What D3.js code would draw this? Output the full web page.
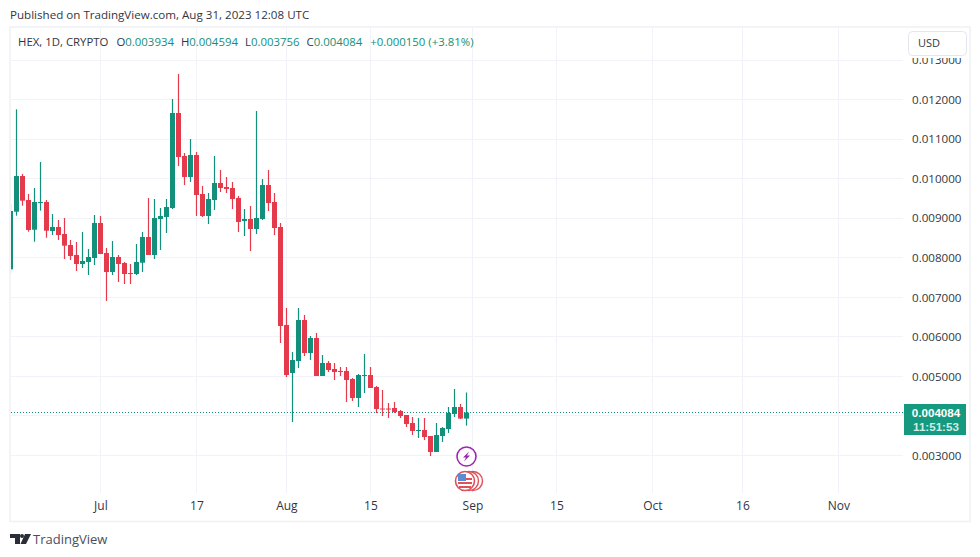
<!DOCTYPE html>
<html>
<head>
<meta charset="utf-8">
<script src="https://cdn.jsdelivr.net/npm/d3@7"></script>
<style>
html, body { margin: 0; padding: 0; background: #fff; }
text { font-family: "Open Sans", Arial, sans-serif; }
</style>
</head>
<body>
<div id="grafico"></div>
<script>
// Datos (HEX, 1D)
var dates = ['2023-06-16','2023-06-17','2023-06-18','2023-06-19','2023-06-20','2023-06-21','2023-06-22','2023-06-23','2023-06-24','2023-06-25','2023-06-26','2023-06-27','2023-06-28','2023-06-29','2023-06-30',
    '2023-07-01','2023-07-02','2023-07-03','2023-07-04','2023-07-05','2023-07-06','2023-07-07','2023-07-08','2023-07-09','2023-07-10','2023-07-11','2023-07-12','2023-07-13','2023-07-14','2023-07-15','2023-07-16','2023-07-17','2023-07-18','2023-07-19','2023-07-20','2023-07-21','2023-07-22','2023-07-23','2023-07-24','2023-07-25','2023-07-26','2023-07-27','2023-07-28','2023-07-29','2023-07-30','2023-07-31',
    '2023-08-01','2023-08-02','2023-08-03','2023-08-04','2023-08-05','2023-08-06','2023-08-07','2023-08-08','2023-08-09','2023-08-10','2023-08-11','2023-08-12','2023-08-13','2023-08-14','2023-08-15','2023-08-16','2023-08-17','2023-08-18','2023-08-19','2023-08-20','2023-08-21','2023-08-22','2023-08-23','2023-08-24','2023-08-25','2023-08-26','2023-08-27','2023-08-28','2023-08-29','2023-08-30','2023-08-31'];
var opens = [0.007708,0.009164,0.010067,0.009460,0.008709,0.009392,0.009410,0.008676,0.008778,0.008601,0.008322,0.008070,0.007842,0.007893,0.007994,
    0.008879,0.008120,0.007640,0.008019,0.007867,0.007614,0.007589,0.007875,0.008525,0.008070,0.008980,0.009030,0.009258,0.011660,0.010573,0.010042,0.010598,0.009612,0.009056,0.009460,0.009890,0.009789,0.009764,0.009511,0.008929,0.008980,0.008727,0.008980,0.009839,0.009410,0.008778,
    0.006300,0.005086,0.005389,0.006426,0.005592,0.005971,0.005010,0.005339,0.005187,0.005137,0.005137,0.004934,0.004454,0.005017,0.005035,0.004732,0.004188,0.004188,0.004201,0.004125,0.004024,0.003822,0.003627,0.003645,0.003493,0.003089,0.003493,0.003670,0.004050,0.004226,0.003934];
var highs = [0.009359,0.011753,0.010118,0.009612,0.009764,0.010421,0.009460,0.009106,0.008955,0.009005,0.008449,0.008398,0.008651,0.008221,0.009081,
    0.009056,0.008247,0.008424,0.008070,0.007893,0.007842,0.008348,0.008651,0.009511,0.009485,0.009258,0.009485,0.012014,0.012646,0.010649,0.011003,0.010674,0.009814,0.009637,0.010573,0.010219,0.010042,0.009915,0.009561,0.009233,0.009308,0.011710,0.009991,0.010219,0.009637,0.008879,
    0.006730,0.005617,0.006730,0.006553,0.006022,0.006097,0.005541,0.005389,0.005339,0.005238,0.005238,0.004960,0.005061,0.005566,0.005238,0.004757,0.004656,0.004328,0.004353,0.004151,0.004024,0.003974,0.003948,0.003948,0.003493,0.003822,0.003721,0.004226,0.004682,0.004303,0.004594];
var lows = [0.007607,0.009063,0.009316,0.008659,0.008406,0.009190,0.008507,0.008575,0.008449,0.007968,0.007943,0.007665,0.007741,0.007564,0.007817,
    0.008095,0.006907,0.007564,0.007387,0.007336,0.007336,0.007564,0.007640,0.008070,0.007968,0.008196,0.008626,0.009233,0.010320,0.009839,0.009915,0.009056,0.009030,0.008853,0.009207,0.009662,0.009637,0.009233,0.008651,0.008550,0.008171,0.008601,0.008955,0.009182,0.008575,0.005845,
    0.004985,0.003847,0.005213,0.005516,0.005415,0.005010,0.005010,0.005111,0.004909,0.005010,0.004353,0.004378,0.004226,0.004580,0.004707,0.004075,0.003999,0.003948,0.004075,0.003948,0.003721,0.003518,0.003443,0.003392,0.002988,0.003089,0.003341,0.003569,0.003974,0.003923,0.003756];
var closes = [0.009182,0.010067,0.009443,0.008702,0.009410,0.009410,0.008684,0.008778,0.008575,0.008305,0.008044,0.007842,0.007918,0.008019,0.008879,
    0.008095,0.007640,0.008019,0.007842,0.007589,0.007597,0.007893,0.008525,0.008070,0.009005,0.009056,0.009283,0.011660,0.010547,0.010042,0.010598,0.009587,0.009056,0.009485,0.009890,0.009764,0.009738,0.009485,0.008904,0.008980,0.008727,0.009005,0.009839,0.009384,0.008752,0.006274,
    0.005035,0.005415,0.006426,0.005592,0.005971,0.005010,0.005339,0.005162,0.005111,0.005119,0.004909,0.004454,0.005035,0.005035,0.004707,0.004176,0.004176,0.004176,0.004100,0.003999,0.003797,0.003620,0.003645,0.003468,0.003089,0.003518,0.003695,0.004075,0.004226,0.003934,0.004084];

var price_ticks = [0.003,0.004,0.005,0.006,0.007,0.008,0.009,0.010,0.011,0.012,0.013];
var time_ticks = ['2023-07-01','2023-07-17','2023-08-01','2023-08-15','2023-09-01','2023-09-15','2023-10-01','2023-10-16','2023-11-01'];
var time_labels = ['Jul','17','Aug','15','Sep','15','Oct','16','Nov'];
var legend_names = ['O','H','L','C'];
var legend_values = ['0.003934','0.004594','0.003756','0.004084'];
var last_price = 0.004084;
var event_date = '2023-08-31';

var width = 980, height = 557;
var verde = '#12907c', rojo = '#e53a4b', grilla = '#f1f3f8', texto = '#33363f';
var fuente = '"Open Sans", Arial, sans-serif';
var parseDate = d3.utcParse('%Y-%m-%d');

var svg = d3.select('#grafico').append('svg')
    .attr('width', width)
    .attr('height', height)
    .style('display', 'block');

// ---------ESCALAS------------
var scale_x = d3.scaleUtc()
    .domain([parseDate(dates[0]), parseDate(time_ticks[8])])
    .range([10.4, 838.4]);
var scale_y = d3.scaleLinear()
    .domain([0.003, 0.013])
    .range([455.5, 60]);

function px(v) { return Math.floor(v) + 0.5; }

// Marco
svg.append('rect').attr('x', 10).attr('y', 27).attr('width', 960).attr('height', 494.5)
    .attr('fill', 'none').attr('stroke', '#f0f2f6').attr('stroke-width', 1.6);

svg.append('defs').append('clipPath').attr('id', 'plot')
    .append('rect').attr('x', 11).attr('y', 28).attr('width', 892).attr('height', 465);

// Grilla
var grid = svg.append('g').attr('clip-path', 'url(#plot)');
price_ticks.forEach(function (d) {
    grid.append('line').attr('x1', 11).attr('x2', 903)
        .attr('y1', px(scale_y(d))).attr('y2', px(scale_y(d)))
        .attr('stroke', grilla);
});
time_ticks.forEach(function (d) {
    grid.append('line').attr('y1', 28).attr('y2', 493)
        .attr('x1', px(scale_x(parseDate(d)))).attr('x2', px(scale_x(parseDate(d))))
        .attr('stroke', grilla);
});

// Linea punteada del ultimo precio
svg.append('line').attr('x1', 11).attr('x2', 903)
    .attr('y1', px(scale_y(last_price))).attr('y2', px(scale_y(last_price)))
    .attr('stroke', verde).attr('stroke-dasharray', '1,2');

// Velas
var velas = svg.append('g').attr('clip-path', 'url(#plot)');
dates.forEach(function (d, i) {
    var x = px(scale_x(parseDate(d)));
    var color = closes[i] >= opens[i] ? verde : rojo;
    velas.append('line').attr('x1', x).attr('x2', x)
        .attr('y1', scale_y(highs[i])).attr('y2', scale_y(lows[i]))
        .attr('stroke', color).attr('stroke-width', 1.2);
    var top = scale_y(Math.max(opens[i], closes[i]));
    var bottom = scale_y(Math.min(opens[i], closes[i]));
    velas.append('rect').attr('x', x - 2.5).attr('width', 5)
        .attr('y', top).attr('height', Math.max(bottom - top, 1))
        .attr('fill', color);
});

// EJE Y
var axis_y = svg.append('g')
    .attr('transform', 'translate(905,0)')
    .call(d3.axisRight(scale_y).tickValues(price_ticks.filter(function (d) { return d !== 0.004; }))
        .tickSize(0).tickPadding(7).tickFormat(d3.format('.6f')));
axis_y.select('.domain').remove();
axis_y.selectAll('text').attr('font-size', 11.6).attr('fill', texto)
    .style('font-family', fuente);

// EJE X
var axis_x = svg.append('g')
    .attr('transform', 'translate(0,494)')
    .call(d3.axisBottom(scale_x).tickValues(time_ticks.map(parseDate))
        .tickSize(0).tickPadding(7)
        .tickFormat(function (d, i) { return time_labels[i]; }));
axis_x.select('.domain').remove();
axis_x.selectAll('text').attr('font-size', 12).attr('fill', texto)
    .style('font-family', fuente);

// Boton USD (tapa parte de la etiqueta 0.013000)
svg.append('rect').attr('x', 905).attr('y', 29).attr('width', 64).attr('height', 29).attr('fill', '#fff');
svg.append('rect').attr('x', 908.5).attr('y', 31.5).attr('width', 58).attr('height', 24).attr('rx', 4)
    .attr('fill', '#fff').attr('stroke', '#e4e6ec');
svg.append('text').attr('x', 918).attr('y', 47).attr('font-size', 11).attr('fill', texto).text('USD');

// Etiqueta del ultimo precio
svg.append('rect').attr('x', 904).attr('y', 404).attr('width', 62).attr('height', 31).attr('fill', '#159a80');
svg.append('text').attr('x', 936).attr('y', 416.5).attr('text-anchor', 'middle')
    .attr('font-size', 11.6).attr('font-weight', 'bold').style('font-family', '"Liberation Sans", Arial, sans-serif')
    .attr('fill', '#fff').text(d3.format('.6f')(last_price));
svg.append('text').attr('x', 936).attr('y', 431).attr('text-anchor', 'middle')
    .attr('font-size', 11.6).attr('font-weight', 'bold').style('font-family', '"Liberation Sans", Arial, sans-serif')
    .attr('fill', '#d0ece5').text('11:51:53');

// Titulos
svg.append('text').attr('x', 10).attr('y', 19).attr('font-size', 11.6).attr('fill', texto)
    .text('Published on TradingView.com, Aug 31, 2023 12:08 UTC');
var leyenda = svg.append('text').attr('x', 18).attr('y', 46).attr('font-size', 11.4).attr('fill', texto);
leyenda.append('tspan').text('HEX, 1D, CRYPTO');
legend_names.forEach(function (n, i) {
    leyenda.append('tspan').attr('dx', i === 0 ? 8 : 7).text(n);
    leyenda.append('tspan').attr('fill', verde).text(legend_values[i]);
});
leyenda.append('tspan').attr('dx', 8).attr('fill', verde).text('+0.000150 (+3.81%)');

// Iconos de eventos
var ex = px(scale_x(parseDate(event_date)));
var rayo = svg.append('g').attr('transform', 'translate(' + ex + ',456.5)');
rayo.append('circle').attr('r', 9.5).attr('fill', '#fff').attr('stroke', '#9c27b0').attr('stroke-width', 1.6);
rayo.append('path').attr('d', 'M2.5,-5 L-3.5,1 L-0.5,1 L-2.5,5 L3.5,-1 L0.5,-1 Z').attr('fill', '#9c27b0');

var bandera = svg.append('g').attr('transform', 'translate(' + (ex - 1.5) + ',481)');
bandera.append('circle').attr('cx', 8).attr('r', 9.5).attr('fill', '#fff').attr('stroke', '#e0505a').attr('stroke-width', 1.4);
bandera.append('circle').attr('cx', 4).attr('r', 9.5).attr('fill', '#fff').attr('stroke', '#e0505a').attr('stroke-width', 1.4);
bandera.append('circle').attr('r', 9.5).attr('fill', '#fff').attr('stroke', '#e0505a').attr('stroke-width', 1.6);
bandera.append('rect').attr('x', -7).attr('y', 1).attr('width', 14).attr('height', 2).attr('fill', '#e0505a');
bandera.append('rect').attr('x', -6).attr('y', 5).attr('width', 12).attr('height', 2).attr('fill', '#e0505a');
bandera.append('rect').attr('x', -1).attr('y', -3).attr('width', 8).attr('height', 2).attr('fill', '#e0505a');
bandera.append('rect').attr('x', -7).attr('y', -7).attr('width', 8).attr('height', 7).attr('fill', '#5b8bd0');

// Logo
var logo = svg.append('g').attr('fill', '#2a2e39');
logo.append('path').attr('d', 'M10,534 H20 V544 H15 V538 H10 Z');
logo.append('circle').attr('cx', 22).attr('cy', 536).attr('r', 2);
logo.append('path').attr('d', 'M25,534 H31 L26,544 H20.5 Z');
svg.append('text').attr('x', 33).attr('y', 544).attr('font-size', 13).attr('fill', '#4a4e59').text('TradingView');
</script>
</body>
</html>
